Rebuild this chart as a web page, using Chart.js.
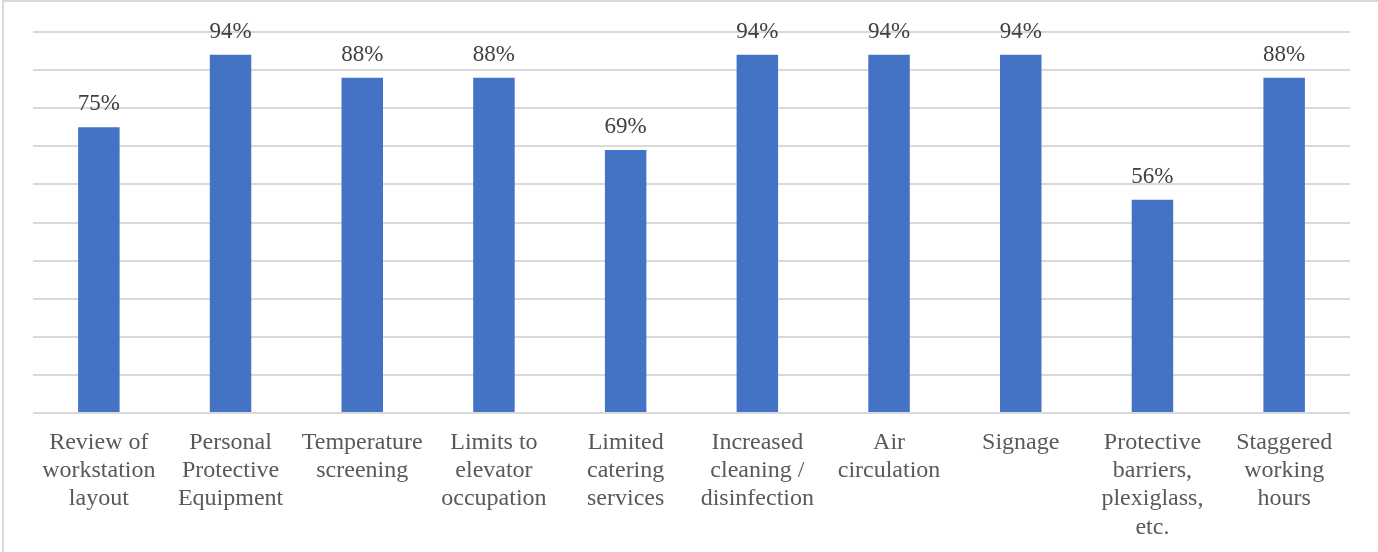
<!DOCTYPE html>
<html>
<head>
<meta charset="utf-8">
<script src="https://cdn.jsdelivr.net/npm/chart.js@4.4.0/dist/chart.umd.min.js"></script>
<style>
  html, body { margin: 0; padding: 0; background: #fff; }
  #wrap { position: relative; width: 1378px; height: 552px; }
  #frame {
    position: absolute; left: 2px; top: 0; right: 0; bottom: 0;
    border-top: 2px solid #d9d9d9; border-left: 2px solid #d9d9d9;
    pointer-events: none;
  }
</style>
</head>
<body>
<div id="wrap">
  <canvas id="chart"></canvas>
  <div id="frame"></div>
</div>
<script>
// Measures and share of respondents applying them
const categories = [
  ['Review of', 'workstation', 'layout'],
  ['Personal', 'Protective', 'Equipment'],
  ['Temperature', 'screening'],
  ['Limits to', 'elevator', 'occupation'],
  ['Limited', 'catering', 'services'],
  ['Increased', 'cleaning /', 'disinfection'],
  ['Air', 'circulation'],
  ['Signage'],
  ['Protective', 'barriers,', 'plexiglass,', 'etc.'],
  ['Staggered', 'working', 'hours']
];
const shares = [75, 94, 88, 88, 69, 94, 94, 94, 56, 88];

const serif = '"Liberation Serif", "Times New Roman", serif';

// percentage above each bar
const valueLabels = {
  id: 'valueLabels',
  afterDatasetsDraw(chart) {
    const ctx = chart.ctx;
    const meta = chart.getDatasetMeta(0);
    ctx.save();
    ctx.font = '23px ' + serif;
    ctx.fillStyle = '#404040';
    ctx.textAlign = 'center';
    ctx.textBaseline = 'alphabetic';
    meta.data.forEach((bar, i) => {
      ctx.fillText(shares[i] + '%', bar.x, bar.y - 17);
    });
    ctx.restore();
  }
};

new Chart(document.getElementById('chart'), {
  type: 'bar',
  data: {
    labels: categories,
    datasets: [{
      data: shares,
      backgroundColor: '#4472C4',
      barPercentage: 0.315,
      categoryPercentage: 1
    }]
  },
  options: {
    responsive: true,
    maintainAspectRatio: false,
    animation: false,
    layout: { padding: { left: 33, right: 28, top: 32, bottom: 0 } },
    plugins: {
      legend: { display: false },
      tooltip: { enabled: false }
    },
    scales: {
      x: {
        grid: { display: false, drawTicks: false },
        border: { display: false },
        ticks: {
          color: '#595959',
          font: { family: serif, size: 24, lineHeight: 1.17 },
          padding: 16,
          maxRotation: 0,
          autoSkip: false
        },
        afterFit(scale) { scale.height = 139; }
      },
      y: {
        min: 0,
        max: 100,
        ticks: { display: false, stepSize: 10 },
        grid: { color: '#d9d9d9', lineWidth: 2, drawTicks: false },
        border: { display: false }
      }
    }
  },
  plugins: [valueLabels]
});
</script>
</body>
</html>
